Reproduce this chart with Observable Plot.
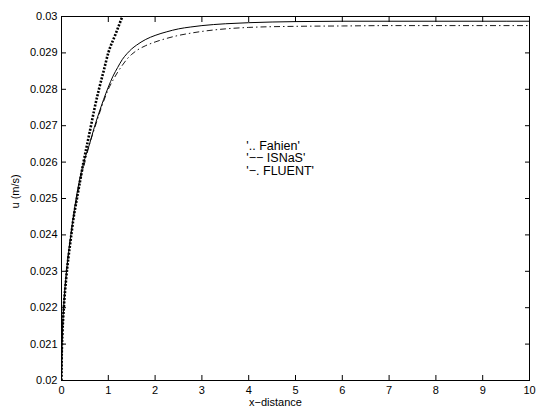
<!DOCTYPE html>
<html><head><meta charset="utf-8">
<script src="https://cdn.jsdelivr.net/npm/d3@7"></script>
<script src="https://cdn.jsdelivr.net/npm/@observablehq/plot@0.6"></script>
<style>body{margin:0;background:#fff}</style>
</head><body><div id="chart"></div>
<script>
// Fahien (dotted)
const fahienX = [0, 0.005, 0.02, 0.05, 0.1, 0.15, 0.2, 0.25, 0.33, 0.4, 0.47, 0.55, 0.63, 0.71, 0.8, 0.9, 1.0, 1.15, 1.3];
const fahienU = [0.02, 0.0207, 0.0213, 0.0220, 0.0228, 0.0234, 0.0239, 0.0244, 0.0250, 0.0255, 0.0260, 0.0265, 0.0270, 0.0275, 0.0280, 0.0285, 0.0290, 0.0295, 0.0300];
// ISNaS (solid) and FLUENT (dash-dot)
const simX = [0, 0.02, 0.05, 0.1, 0.2, 0.3, 0.4, 0.5, 0.6, 0.7, 0.8, 0.9, 1.0, 1.1, 1.2, 1.3, 1.4, 1.5, 1.6, 1.8, 2.0, 2.25, 2.5, 2.75, 3, 3.5, 4, 5, 6, 7, 8, 9, 10];
const isnasU = [0.02, 0.0213, 0.0221, 0.0229, 0.0240, 0.0249, 0.0256, 0.0261, 0.0265, 0.02695, 0.02735, 0.02772, 0.02806, 0.02836, 0.02860, 0.02882, 0.02898, 0.02911, 0.02921, 0.02937, 0.02948, 0.02958, 0.02966, 0.02971, 0.02975, 0.02980, 0.02983, 0.02986, 0.02987, 0.02987, 0.02987, 0.02987, 0.02987];
const fluentU = [0.02, 0.0213, 0.0221, 0.0229, 0.0240, 0.0248, 0.0255, 0.0260, 0.0265, 0.0269, 0.0273, 0.02767, 0.02800, 0.02825, 0.02847, 0.02866, 0.02883, 0.02896, 0.02906, 0.02920, 0.02930, 0.02940, 0.02948, 0.02954, 0.02959, 0.02966, 0.02970, 0.02973, 0.02974, 0.02975, 0.02975, 0.02975, 0.02975];
const xTicks = [0, 1, 2, 3, 4, 5, 6, 7, 8, 9, 10];
const yTicks = [0.02, 0.021, 0.022, 0.023, 0.024, 0.025, 0.026, 0.027, 0.028, 0.029, 0.03];
const yTickLabels = ["0.02", "0.021", "0.022", "0.023", "0.024", "0.025", "0.026", "0.027", "0.028", "0.029", "0.03"];
const legendLines = ["'.. Fahien'", "'\u2212\u2212 ISNaS'", "'\u2212. FLUENT'"];
const legendPos = {x: 3.95, y: 0.02611};
const xLabel = "x\u2212distance";
const yLabel = "u (m/s)";

const fahien = fahienX.map((x, i) => ({x, u: fahienU[i]}));
const isnas = simX.map((x, i) => ({x, u: isnasU[i]}));
const fluent = simX.map((x, i) => ({x, u: fluentU[i]}));
const yFmt = d => yTickLabels[yTicks.findIndex(t => Math.abs(t - d) < 1e-9)];

const chart = Plot.plot({
  width: 537,
  height: 415,
  marginLeft: 61,
  marginRight: 8,
  marginTop: 16,
  marginBottom: 35,
  style: {fontFamily: "'Liberation Sans', Arial, sans-serif", fontSize: "11px", background: "#fff", color: "#000"},
  x: {domain: [0, 10]},
  y: {domain: [0.02, 0.03]},
  marks: [
    Plot.line(fluent, {x: "x", y: "u", stroke: "#000", strokeWidth: 0.9, strokeDasharray: "6,3,1.5,3", strokeLinecap: "butt", curve: "monotone-x", clip: true}),
    Plot.line(isnas, {x: "x", y: "u", stroke: "#000", strokeWidth: 1, curve: "monotone-x", clip: true}),
    Plot.line(fahien, {x: "x", y: "u", stroke: "#000", strokeWidth: 2.6, strokeDasharray: "2,1.5", strokeLinecap: "butt", curve: "monotone-x", clip: true}),
    Plot.frame({stroke: "#000", strokeWidth: 1}),
    Plot.axisX({anchor: "bottom", ticks: xTicks, tickSize: -5, tickPadding: 11, label: null, tickFormat: d => String(d)}),
    Plot.axisX({anchor: "top", ticks: xTicks, tickSize: -5, label: null, tickFormat: () => ""}),
    Plot.axisY({anchor: "left", ticks: yTicks, tickSize: -5, tickPadding: 9, label: null, tickFormat: yFmt}),
    Plot.axisY({anchor: "right", ticks: yTicks, tickSize: -5, label: null, tickFormat: () => ""}),
    Plot.text([legendLines.join("\n")], {x: () => legendPos.x, y: () => legendPos.y, textAnchor: "start", fontSize: 12.5, lineHeight: 1.0}),
    Plot.text([xLabel], {frameAnchor: "bottom", dy: 25, dx: -20, fontSize: 11}),
    Plot.text([yLabel], {frameAnchor: "left", rotate: -90, dx: -46, dy: 10, fontSize: 11})
  ]
});
document.getElementById("chart").append(chart);
</script>
</body></html>
